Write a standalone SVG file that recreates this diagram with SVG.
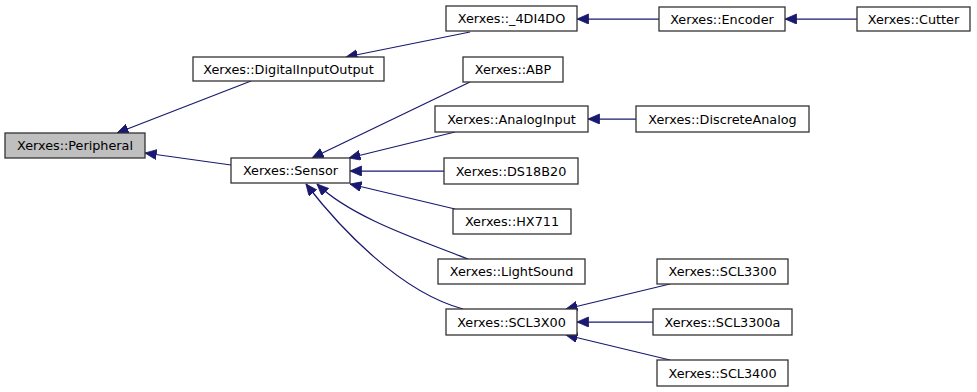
<svg xmlns="http://www.w3.org/2000/svg" width="977" height="392" viewBox="0 0 977 392">
  <style>
    .node rect { fill: #ffffff; stroke: #333333; stroke-width: 1.3; }
    .node.root rect { fill: #bfbfbf; }
    .node text { font-family: "DejaVu Sans", "Liberation Sans", sans-serif; font-size: 12.8px; fill: #000000; text-anchor: middle; }
    .edges path { fill: none; stroke: #191970; stroke-width: 1.25; marker-end: url(#arrow); }
  </style>
  <defs>
    <marker id="arrow" markerUnits="userSpaceOnUse" markerWidth="13" markerHeight="11" refX="11.5" refY="5" orient="auto">
      <path d="M0,0 L11.5,5 L0,10 z" fill="#191970" stroke="#191970" stroke-width="0.8"/>
    </marker>
  </defs>
  <rect width="977" height="392" fill="#ffffff"/>

  <!-- inheritance edges: child to parent -->
  <g id="edges" class="edges">
    <path d="M251,81 L117,133"/>
    <path d="M231,165 L145,153"/>
    <path d="M470,32 L346,57"/>
    <path d="M659,19 L577,19"/>
    <path d="M857,19 L785,19"/>
    <path d="M470,82 L312,158"/>
    <path d="M455,132 L349,158"/>
    <path d="M636,119 L588,119"/>
    <path d="M444,171 L350,171"/>
    <path d="M455,209 L350,184"/>
    <path d="M468,259 C420,240 352,218 317,184"/>
    <path d="M463,309 C400,292 340,228 306,184"/>
    <path d="M670,284 L566,309"/>
    <path d="M653,322 L577,322"/>
    <path d="M670,360 L566,335"/>
  </g>

  <g id="peripheral" class="node root">
    <rect x="5" y="133" width="140" height="25"/>
    <text x="75" y="150">Xerxes::Peripheral</text>
  </g>
  <g id="digital_input_output" class="node">
    <rect x="193" y="57" width="191" height="24"/>
    <text x="288.5" y="73.5">Xerxes::DigitalInputOutput</text>
  </g>
  <g id="sensor" class="node">
    <rect x="231" y="158" width="119" height="25"/>
    <text x="290.5" y="175">Xerxes::Sensor</text>
  </g>
  <g id="_4di4do" class="node">
    <rect x="446" y="6" width="131" height="25"/>
    <text x="511.5" y="23">Xerxes::_4DI4DO</text>
  </g>
  <g id="encoder" class="node">
    <rect x="659" y="7" width="126" height="24"/>
    <text x="722" y="23.5">Xerxes::Encoder</text>
  </g>
  <g id="cutter" class="node">
    <rect x="857" y="7" width="113" height="24"/>
    <text x="913.5" y="23.5">Xerxes::Cutter</text>
  </g>
  <g id="abp" class="node">
    <rect x="463" y="57" width="100" height="25"/>
    <text x="513" y="74">Xerxes::ABP</text>
  </g>
  <g id="analog_input" class="node">
    <rect x="435" y="106" width="153" height="26"/>
    <text x="511.5" y="123.5">Xerxes::AnalogInput</text>
  </g>
  <g id="discrete_analog" class="node">
    <rect x="636" y="106" width="173" height="26"/>
    <text x="722.5" y="123.5">Xerxes::DiscreteAnalog</text>
  </g>
  <g id="ds18b20" class="node">
    <rect x="444" y="158" width="134" height="26"/>
    <text x="511" y="175.5">Xerxes::DS18B20</text>
  </g>
  <g id="hx711" class="node">
    <rect x="453" y="209" width="118" height="25"/>
    <text x="512" y="226">Xerxes::HX711</text>
  </g>
  <g id="light_sound" class="node">
    <rect x="438" y="259" width="147" height="25"/>
    <text x="511.5" y="276">Xerxes::LightSound</text>
  </g>
  <g id="scl3x00" class="node">
    <rect x="446" y="309" width="131" height="26"/>
    <text x="511.5" y="326.5">Xerxes::SCL3X00</text>
  </g>
  <g id="scl3300" class="node">
    <rect x="657" y="259" width="131" height="25"/>
    <text x="722.5" y="276">Xerxes::SCL3300</text>
  </g>
  <g id="scl3300a" class="node">
    <rect x="653" y="309" width="139" height="26"/>
    <text x="722.5" y="326.5">Xerxes::SCL3300a</text>
  </g>
  <g id="scl3400" class="node">
    <rect x="657" y="360" width="131" height="26"/>
    <text x="722.5" y="377.5">Xerxes::SCL3400</text>
  </g>
</svg>
